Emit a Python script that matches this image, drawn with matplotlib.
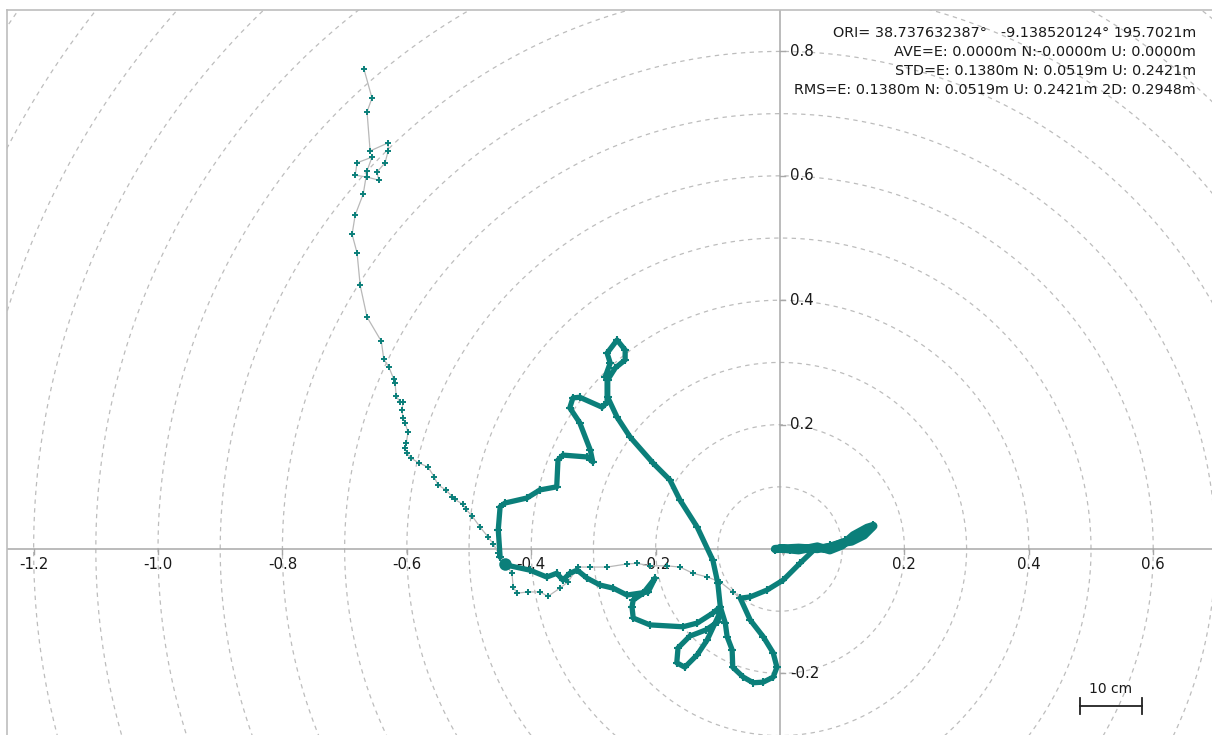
import numpy as np
import matplotlib
matplotlib.use("Agg")
import matplotlib.pyplot as plt

# ---- position solutions, east / north offsets from the origin (m) ----
# sparse track (single fixes drawn with crosses)
sparse_e = [-0.669, -0.656, -0.664, -0.659, -0.630, -0.630, -0.635, -0.648, -0.645,
            -0.664, -0.683, -0.680, -0.656, -0.664, -0.670, -0.683, -0.688, -0.680,
            -0.675, -0.664, -0.641, -0.637, -0.629, -0.621, -0.619, -0.617, -0.611,
            -0.606, -0.608, -0.606, -0.603, -0.598, -0.601, -0.603, -0.600, -0.593,
            -0.580, -0.566, -0.556, -0.550, -0.537, -0.527, -0.523, -0.510, -0.505,
            -0.495, -0.482, -0.469, -0.461, -0.453, -0.442]
sparse_n = [0.772, 0.725, 0.703, 0.640, 0.653, 0.640, 0.621, 0.606, 0.593,
            0.598, 0.601, 0.621, 0.630, 0.608, 0.571, 0.537, 0.506, 0.476,
            0.424, 0.373, 0.334, 0.305, 0.293, 0.273, 0.267, 0.246, 0.236,
            0.236, 0.223, 0.211, 0.203, 0.188, 0.170, 0.162, 0.154, 0.146,
            0.138, 0.132, 0.116, 0.103, 0.095, 0.084, 0.080, 0.072, 0.064,
            0.053, 0.035, 0.019, 0.008, -0.006, -0.023]

sparse2_e = [-0.442, -0.431, -0.429, -0.423, -0.405, -0.386, -0.373, -0.354, -0.341,
             -0.325, -0.305, -0.278, -0.246, -0.230, -0.209, -0.182, -0.161, -0.140,
             -0.117, -0.096, -0.076, -0.064]
sparse2_n = [-0.023, -0.039, -0.061, -0.071, -0.069, -0.069, -0.076, -0.063, -0.053,
             -0.029, -0.029, -0.029, -0.024, -0.023, -0.027, -0.027, -0.029, -0.039,
             -0.045, -0.053, -0.069, -0.079]

# dense track: main loop and the run to the east
main_e = [-0.450, -0.453, -0.450, -0.442, -0.407, -0.386, -0.359, -0.357, -0.349,
          -0.310, -0.301, -0.305, -0.322, -0.338, -0.333, -0.322, -0.286, -0.278,
          -0.278, -0.281, -0.273, -0.278, -0.262, -0.249, -0.249, -0.265, -0.277,
          -0.277, -0.262, -0.241, -0.204, -0.177, -0.161, -0.133, -0.108, -0.100,
          -0.096, -0.088, -0.085, -0.077, -0.076, -0.059, -0.043, -0.027, -0.011,
          -0.005, -0.011, -0.027, -0.048, -0.064, -0.048, -0.021, 0.005, 0.032,
          0.056, 0.080, 0.105, 0.129, 0.150, 0.132, 0.109, 0.084, 0.048, 0.016, -0.008]
main_n = [-0.013, 0.031, 0.068, 0.074, 0.082, 0.095, 0.100, 0.143, 0.151,
          0.148, 0.140, 0.159, 0.203, 0.227, 0.243, 0.244, 0.228, 0.236,
          0.272, 0.277, 0.299, 0.315, 0.336, 0.320, 0.304, 0.291, 0.272,
          0.244, 0.212, 0.180, 0.138, 0.111, 0.079, 0.035, -0.018, -0.055,
          -0.093, -0.119, -0.141, -0.162, -0.190, -0.206, -0.215, -0.214, -0.206,
          -0.190, -0.167, -0.141, -0.114, -0.079, -0.077, -0.066, -0.050, -0.023,
          0.000, 0.006, 0.014, 0.024, 0.039, 0.026, 0.011, 0.002, 0.000, -0.002, -0.002]

# dense track: return westward with the hook
west_e = [-0.096, -0.108, -0.133, -0.156, -0.209, -0.236, -0.238, -0.236, -0.220,
          -0.201, -0.212, -0.246, -0.268, -0.289, -0.310, -0.326, -0.338, -0.349,
          -0.359, -0.375, -0.402, -0.439]
west_n = [-0.093, -0.103, -0.119, -0.125, -0.122, -0.111, -0.093, -0.082, -0.071,
          -0.047, -0.069, -0.074, -0.063, -0.058, -0.047, -0.034, -0.039, -0.050,
          -0.039, -0.045, -0.034, -0.026]

# dense track: small loop south-west of the crossing
loop_e = [-0.096, -0.117, -0.133, -0.153, -0.166, -0.164, -0.145, -0.119, -0.100, -0.096]
loop_n = [-0.101, -0.146, -0.170, -0.190, -0.183, -0.159, -0.140, -0.130, -0.117, -0.101]

# eastern cluster of fixes
east_e = [-0.008, 0.030, 0.060, 0.085, 0.100, 0.115, 0.135, 0.150, 0.140, 0.118,
          0.100, 0.080, 0.060, 0.030, 0.000]
east_n = [0.000, 0.002, 0.000, 0.004, 0.010, 0.012, 0.022, 0.037, 0.034, 0.022,
          0.006, -0.002, 0.004, -0.002, 0.001]

# stationary cluster where the sparse track meets the dense one
hold_e = [-0.442]
hold_n = [-0.024]

x_ticks = [-1.2, -1.0, -0.8, -0.6, -0.4, -0.2, 0.2, 0.4, 0.6]
y_ticks = [0.8, 0.6, 0.4, 0.2, -0.2]
ring_radii = [r / 10 for r in range(1, 16)]

info_lines = [
    "ORI= 38.737632387\u00b0   -9.138520124\u00b0 195.7021m",
    "AVE=E: 0.0000m N:-0.0000m U: 0.0000m",
    "STD=E: 0.1380m N: 0.0519m U: 0.2421m",
    "RMS=E: 0.1380m N: 0.0519m U: 0.2421m 2D: 0.2948m",
]
scale_len = 0.1
scale_label = "10 cm"

TEAL = "#0b7f7a"
GRID = "#bdbdbd"
AXIS = "#a8a8a8"

plt.rcParams["font.family"] = ["DejaVu Sans"]
fig = plt.figure(figsize=(12.12, 7.35), dpi=100, facecolor="white")
W, H = 1212, 735
ax = fig.add_axes([7 / W, 0, 1 - 7 / W, 1 - 10 / H])
ax.set_xlim(-1.2428, 0.6945)
ax.set_ylim(-0.299, 0.8666)
ax.set_xticks([])
ax.set_yticks([])
for s in ("right", "bottom"):
    ax.spines[s].set_visible(False)
for s in ("left", "top"):
    ax.spines[s].set_color("#bdbdbd")
    ax.spines[s].set_linewidth(1.2)

# range rings
th = np.linspace(0, 2 * np.pi, 720)
for r in ring_radii:
    ax.plot(r * np.cos(th), r * np.sin(th), color=GRID, lw=0.9,
            dashes=(3.5, 3.5), zorder=1)

# axes through the origin
ax.axhline(0, color=AXIS, lw=1.1, zorder=2)
ax.axvline(0, color=AXIS, lw=1.1, zorder=2)

for v in x_ticks:
    ax.plot([v, v], [0, -0.008], color=AXIS, lw=1, zorder=2)
    ax.annotate(f"{v:.1f}", (v, 0), xytext=(0, -11.5), textcoords="offset points",
                ha="center", va="center", fontsize=10.8, color="#1a1a1a", zorder=3)
for v in y_ticks:
    ax.plot([0, 0.008], [v, v], color=AXIS, lw=1, zorder=2)
    ax.annotate(f"{v:.1f}", (0, v), xytext=(7.5, 0), textcoords="offset points",
                ha="left", va="center", fontsize=10.8, color="#1a1a1a", zorder=3)

# sparse solutions
for xs, ys in ((sparse_e, sparse_n), (sparse2_e, sparse2_n)):
    ax.plot(xs, ys, color="#b8b8b8", lw=0.9, zorder=4)
    ax.plot(xs, ys, ls="none", marker="+", ms=4.8, mew=1.4, color=TEAL, zorder=5)

# dense solutions
for xs, ys in ((main_e, main_n), (west_e, west_n), (loop_e, loop_n)):
    ax.plot(xs, ys, color=TEAL, lw=3.8, solid_joinstyle="round",
            solid_capstyle="round", zorder=6)
    ax.plot(xs, ys, ls="none", marker="+", ms=5.5, mew=1.5, color=TEAL, zorder=6)
ax.plot(east_e, east_n, color=TEAL, lw=6, solid_joinstyle="round",
        solid_capstyle="round", zorder=6)
ax.plot(hold_e, hold_n, ls="none", marker="o", ms=9, color=TEAL, mec="none", zorder=6)

# reference point marker
ax.plot([0.004], [-0.006], marker="v", ms=5, color="#b0b0b0", mec="none", zorder=5)

# statistics block
for i, line in enumerate(info_lines):
    fig.text(1196 / W, 1 - (33 + 19 * i) / H, line, ha="right", va="center",
             fontsize=10.4, color="#1a1a1a")

# scale bar
sx0, sy = 0.482, -0.2524
ax.plot([sx0, sx0 + scale_len], [sy, sy], color="#222222", lw=1.3, zorder=7)
for xv in (sx0, sx0 + scale_len):
    ax.plot([xv, xv], [sy - 0.013, sy + 0.013], color="#222222", lw=1.3, zorder=7)
ax.text(sx0 + scale_len / 2, sy + 0.027, scale_label, ha="center", va="center",
        fontsize=10, color="#1a1a1a", zorder=7)

fig.savefig("out.png", dpi=100, facecolor="white")
